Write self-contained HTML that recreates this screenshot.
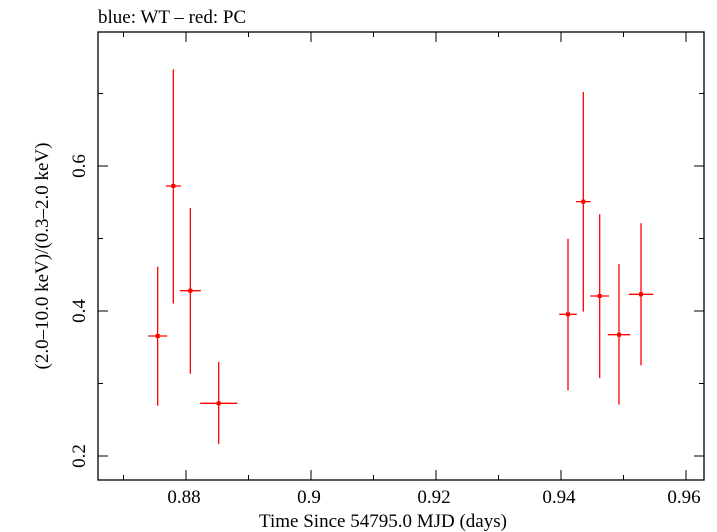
<!DOCTYPE html>
<html><head><meta charset="utf-8"><style>
body{margin:0;background:#fff;}
svg{display:block;font-family:"Liberation Serif",serif;}
</style></head><body>
<svg id="chart" width="717" height="532" viewBox="0 0 717 532" xmlns="http://www.w3.org/2000/svg">
<rect x="0" y="0" width="717" height="532" fill="#fff"/>
<text x="98" y="23" font-size="19">blue: WT – red: PC</text>
<g id="axes"></g>
<g id="marks"></g>
<text x="383" y="527" font-size="19" text-anchor="middle">Time Since 54795.0 MJD (days)</text>
<text transform="translate(48,256) rotate(-90)" font-size="19" text-anchor="middle">(2.0–10.0 keV)/(0.3–2.0 keV)</text>
</svg>
<script>
const times=[0.87547,0.87797,0.88069,0.88523,0.94112,0.94357,0.94619,0.94928,0.95280];
const timeErr=[0.00152,0.0012,0.00168,0.00296,0.0014,0.00117,0.00152,0.00179,0.00197];
const ratios=[0.3655,0.5724,0.428,0.2727,0.3954,0.5508,0.4207,0.3673,0.423];
const ratioErrUp=[0.0956,0.161,0.114,0.057,0.1043,0.1513,0.1127,0.0975,0.098];
const ratioErrDown=[0.096,0.162,0.1145,0.056,0.1048,0.1517,0.1131,0.0966,0.098];
const xTickLabels=["0.88","0.9","0.92","0.94","0.96"];
const yTickLabels=["0.2","0.4","0.6"];

const L=98,R=704,T=32,B=480;
const x0=0.86592,x1=0.96288,y0=0.1669,y1=0.7848;
const xs=v=>L+(v-x0)/(x1-x0)*(R-L);
const ys=v=>B-(v-y0)/(y1-y0)*(B-T);
const NS="http://www.w3.org/2000/svg";
function mk(tag,attrs,parent){const e=document.createElementNS(NS,tag);for(const k in attrs)e.setAttribute(k,attrs[k]);parent.appendChild(e);return e;}
const axes=document.getElementById('axes');
const marks=document.getElementById('marks');
const frame=mk('rect',{x:L,y:T,width:R-L,height:B-T,fill:'none',stroke:'#000','stroke-width':1.3},axes);


for(let i=0;i<=10;i++){
  const v=0.87+i*0.01; const px=xs(v); if(px<L||px>R)continue;
  const major=Math.abs(Math.round(v*100)%2)===0; const len=major?10:5;
  const t1=mk('line',{x1:px,y1:B,x2:px,y2:B-len,stroke:'#000','stroke-width':1},axes);
  
  
  const t2=mk('line',{x1:px,y1:T,x2:px,y2:T+len,stroke:'#000','stroke-width':1},axes);
  
  
}
xTickLabels.forEach(s=>{
  const v=parseFloat(s);
  const tx=mk('text',{x:xs(v)-2,y:B+23,'font-size':19,'text-anchor':'middle'},axes);
  tx.textContent=s;
  
  
});
for(let i=2;i<=7;i++){
  const v=i/10; const py=ys(v); if(py<T||py>B)continue;
  const len=(i%2===0)?10:5;
  const t1=mk('line',{x1:L,y1:py,x2:L+len,y2:py,stroke:'#000','stroke-width':1},axes);
  
  
  const t2=mk('line',{x1:R,y1:py,x2:R-len,y2:py,stroke:'#000','stroke-width':1},axes);
  
  
}
yTickLabels.forEach(s=>{
  const v=parseFloat(s); const py=ys(v);
  const tx=mk('text',{x:0,y:0,'font-size':19,'text-anchor':'middle',transform:`translate(${L-13},${py}) rotate(-90)`},axes);
  tx.textContent=s;
  
  
});
times.forEach((t,i)=>{
  const g=mk('g',{},marks);
  
  
  const cx=xs(t),cy=ys(ratios[i]);
  mk('line',{x1:cx,y1:ys(ratios[i]+ratioErrUp[i]),x2:cx,y2:ys(ratios[i]-ratioErrDown[i]),stroke:'#f00','stroke-width':1.3},g);
  mk('line',{x1:xs(t-timeErr[i]),y1:cy,x2:xs(t+timeErr[i]),y2:cy,stroke:'#f00','stroke-width':1.3},g);
  mk('rect',{x:cx-2,y:cy-2,width:4,height:4,fill:'#f00'},g);
});
</script>
</body></html>
